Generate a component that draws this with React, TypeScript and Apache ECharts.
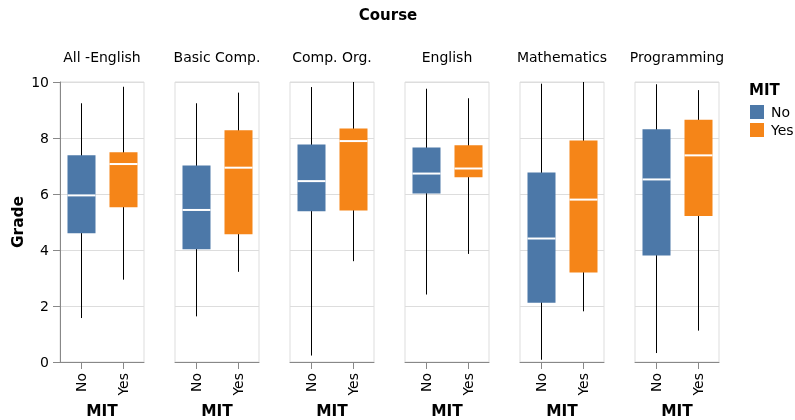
import React, { useEffect, useRef } from "react";
import * as echarts from "echarts";

const courses = ["All -English", "Basic Comp.", "Comp. Org.", "English", "Mathematics", "Programming"];
const groups = ["No", "Yes"];
const groupColors = ["#4c78a8", "#f58518"];
// [low whisker, Q1, median, Q3, high whisker]
const noBox = [
  [1.57, 4.6, 5.95, 7.38, 9.24],
  [1.63, 4.03, 5.43, 7.02, 9.24],
  [0.23, 5.38, 6.46, 7.77, 9.82],
  [2.41, 6.02, 6.73, 7.66, 9.76],
  [0.08, 2.12, 4.41, 6.77, 9.94],
  [0.32, 3.8, 6.52, 8.31, 9.92],
];
const yesBox = [
  [2.94, 5.53, 7.07, 7.49, 9.83],
  [3.22, 4.56, 6.94, 8.28, 9.62],
  [3.6, 5.41, 7.89, 8.34, 10],
  [3.86, 6.6, 6.91, 7.74, 9.42],
  [1.81, 3.2, 5.8, 7.91, 10],
  [1.12, 5.21, 7.38, 8.65, 9.71],
];
const yTicks = [0, 2, 4, 6, 8, 10];

const FONT = "DejaVu Sans";

export default function App() {
  const ref = useRef<HTMLDivElement>(null);
  useEffect(() => {
    if (!ref.current) return;
    const chart = echarts.init(ref.current, null, { renderer: "svg" });
    const panelLeft = 60;
    const panelStep = 115;
    const panelW = 84;
    const panelTop = 82;
    const panelH = 280;

    const grids: any[] = [];
    const xAxes: any[] = [];
    const yAxes: any[] = [];
    const series: any[] = [];
    const graphics: any[] = [];

    const renderItem = (color: string) => (params: any, api: any) => {
      const x = api.value(0);
      const pLow = api.coord([x, api.value(1)]);
      const pQ1 = api.coord([x, api.value(2)]);
      const pMed = api.coord([x, api.value(3)]);
      const pQ3 = api.coord([x, api.value(4)]);
      const pHigh = api.coord([x, api.value(5)]);
      const bw = api.size([1, 0])[0] * 0.667;
      const cx = Math.round(pMed[0]) + 0.5;
      return {
        type: "group",
        children: [
          {
            type: "line",
            shape: { x1: cx, y1: pHigh[1], x2: cx, y2: pLow[1] },
            style: { stroke: "#000", lineWidth: 1 },
          },
          {
            type: "rect",
            shape: { x: cx - bw / 2, y: pQ3[1], width: bw, height: pQ1[1] - pQ3[1] },
            style: { fill: color },
          },
          {
            type: "line",
            shape: { x1: cx - bw / 2, y1: pMed[1], x2: cx + bw / 2, y2: pMed[1] },
            style: { stroke: "#fff", lineWidth: 2 },
          },
        ],
      };
    };

    courses.forEach((course, i) => {
      const left = panelLeft + panelStep * i;
      grids.push({
        left,
        top: panelTop,
        width: panelW,
        height: panelH,
        show: true,
        borderColor: "#ddd",
        borderWidth: 1,
        backgroundColor: "transparent",
        containLabel: false,
        outerBoundsMode: "none",
      });
      xAxes.push({
        type: "category",
        gridIndex: i,
        data: groups,
        boundaryGap: true,
        name: "MIT",
        nameLocation: "middle",
        nameGap: 39,
        nameTextStyle: { fontFamily: FONT, fontWeight: "bold", fontSize: 15.4, color: "#000" },
        axisLine: { show: true, lineStyle: { color: "#888", width: 1 } },
        axisTick: { show: true, alignWithLabel: true, length: 7, lineStyle: { color: "#888" } },
        axisLabel: { rotate: 90, fontFamily: FONT, fontSize: 14, color: "#000", margin: 11 },
        splitLine: { show: false },
      });
      yAxes.push({
        type: "value",
        gridIndex: i,
        min: 0,
        max: 10,
        interval: 2,
        name: i === 0 ? "Grade" : "",
        nameLocation: "middle",
        nameGap: 35,
        nameTextStyle: { fontFamily: FONT, fontWeight: "bold", fontSize: 15.4, color: "#000" },
        axisLine: { show: i === 0, lineStyle: { color: "#888", width: 1 } },
        axisTick: { show: i === 0, length: 7, lineStyle: { color: "#888" } },
        axisLabel: {
          show: i === 0,
          fontFamily: FONT,
          fontSize: 14,
          color: "#000",
          margin: 11,
          customValues: yTicks,
        },
        splitLine: { show: true, lineStyle: { color: "#ddd", width: 1 } },
      });
      series.push({
        type: "custom",
        name: groups[0],
        xAxisIndex: i,
        yAxisIndex: i,
        itemStyle: { color: groupColors[0] },
        encode: { x: 0, y: [1, 2, 3, 4, 5] },
        data: [[0, ...noBox[i]]],
        renderItem: renderItem(groupColors[0]),
      });
      series.push({
        type: "custom",
        name: groups[1],
        xAxisIndex: i,
        yAxisIndex: i,
        itemStyle: { color: groupColors[1] },
        encode: { x: 0, y: [1, 2, 3, 4, 5] },
        data: [[1, ...yesBox[i]]],
        renderItem: renderItem(groupColors[1]),
      });
      graphics.push({
        type: "text",
        x: left + panelW / 2,
        y: 57,
        style: {
          text: course,
          fontFamily: FONT,
          fontSize: 14,
          fill: "#000",
          align: "center",
          verticalAlign: "middle",
        },
      });
    });

    graphics.push({
      type: "text",
      x: 388,
      y: 15,
      style: {
        text: "Course",
        fontFamily: FONT,
        fontSize: 15,
        fontWeight: "bold",
        fill: "#000",
        align: "center",
        verticalAlign: "middle",
      },
    });
    graphics.push({
      type: "text",
      x: 749,
      y: 90,
      style: {
        text: "MIT",
        fontFamily: FONT,
        fontSize: 15,
        fontWeight: "bold",
        fill: "#000",
        align: "left",
        verticalAlign: "middle",
      },
    });

    chart.setOption({
      animation: false,
      textStyle: { fontFamily: FONT },
      grid: grids,
      xAxis: xAxes,
      yAxis: yAxes,
      series,
      legend: {
        orient: "vertical",
        left: 750,
        top: 105,
        padding: 0,
        itemWidth: 14,
        itemHeight: 14,
        itemGap: 4,
        icon: "rect",
        selectedMode: false,
        data: groups,
        textStyle: { fontFamily: FONT, fontSize: 14, color: "#000", padding: [0, 0, 0, 2] },
      },
      graphic: graphics,
    });
    return () => chart.dispose();
  }, []);
  return (
    <div
      ref={ref}
      style={{ position: "fixed", left: 0, top: 0, width: 795, height: 420 }}
    />
  );
}
